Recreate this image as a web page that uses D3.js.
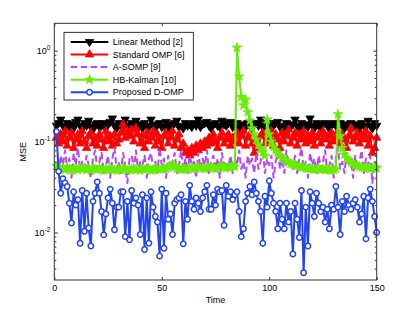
<!DOCTYPE html>
<html>
<head>
<meta charset="utf-8">
<script src="https://cdn.jsdelivr.net/npm/d3@7"></script>
<style>
body { margin: 0; background: #fff; }
text { font-family: "Liberation Sans", Arial, sans-serif; fill: #000; }
</style>
</head>
<body>
<svg width="415" height="316"></svg>
<script>
// time steps 1..150
var times = d3.range(1, 151);

var linearMethod = [
  0.150,0.160,0.175,0.150,0.140,0.160,0.145,0.155,0.140,0.165,
  0.175,0.150,0.140,0.160,0.150,0.170,0.145,0.135,0.155,0.160,
  0.145,0.150,0.160,0.140,0.155,0.165,0.180,0.150,0.140,0.160,
  0.150,0.145,0.175,0.150,0.140,0.160,0.150,0.170,0.145,0.155,
  0.140,0.160,0.150,0.145,0.175,0.150,0.140,0.155,0.160,0.145,
  0.150,0.165,0.140,0.155,0.150,0.160,0.170,0.145,0.150,0.140,
  0.160,0.150,0.155,0.145,0.160,0.150,0.175,0.145,0.155,0.160,
  0.165,0.150,0.140,0.155,0.160,0.150,0.145,0.170,0.155,0.150,
  0.160,0.165,0.145,0.150,0.160,0.140,0.155,0.150,0.145,0.160,
  0.150,0.140,0.155,0.160,0.150,0.175,0.145,0.150,0.160,0.140,
  0.155,0.150,0.160,0.165,0.145,0.150,0.140,0.160,0.150,0.145,
  0.155,0.175,0.150,0.140,0.160,0.150,0.155,0.145,0.180,0.150,
  0.140,0.160,0.150,0.145,0.155,0.160,0.150,0.140,0.155,0.160,
  0.150,0.145,0.160,0.150,0.140,0.155,0.150,0.160,0.145,0.150,
  0.155,0.140,0.160,0.150,0.145,0.170,0.150,0.140,0.160,0.150
];

var standardOMP = [
  0.110,0.095,0.120,0.100,0.130,0.090,0.110,0.125,0.085,0.105,
  0.120,0.095,0.130,0.100,0.085,0.115,0.125,0.095,0.110,0.090,
  0.120,0.105,0.085,0.130,0.100,0.115,0.090,0.120,0.095,0.105,
  0.125,0.155,0.110,0.130,0.115,0.135,0.100,0.140,0.120,0.095,
  0.115,0.085,0.125,0.100,0.110,0.130,0.090,0.120,0.100,0.085,
  0.115,0.125,0.095,0.110,0.130,0.090,0.105,0.120,0.085,0.095,
  0.075,0.080,0.070,0.085,0.075,0.090,0.080,0.095,0.085,0.100,
  0.090,0.110,0.095,0.120,0.100,0.085,0.110,0.125,0.095,0.105,
  0.120,0.090,0.110,0.100,0.125,0.095,0.115,0.130,0.090,0.110,
  0.120,0.095,0.075,0.105,0.085,0.115,0.125,0.095,0.110,0.100,
  0.130,0.090,0.120,0.105,0.085,0.125,0.100,0.115,0.135,0.095,
  0.110,0.125,0.090,0.120,0.105,0.130,0.095,0.115,0.100,0.125,
  0.090,0.110,0.120,0.095,0.130,0.105,0.115,0.090,0.125,0.100,
  0.110,0.130,0.095,0.120,0.105,0.085,0.115,0.140,0.100,0.110,
  0.125,0.095,0.120,0.105,0.130,0.090,0.115,0.075,0.085,0.110
];

var aSOMP = [
  0.060,0.045,0.070,0.055,0.080,0.050,0.065,0.040,0.075,0.055,
  0.085,0.050,0.060,0.045,0.070,0.055,0.040,0.065,0.080,0.050,
  0.060,0.075,0.045,0.055,0.070,0.040,0.065,0.085,0.050,0.060,
  0.045,0.075,0.055,0.035,0.065,0.070,0.050,0.080,0.045,0.060,
  0.055,0.070,0.040,0.065,0.075,0.050,0.060,0.045,0.085,0.055,
  0.065,0.040,0.070,0.050,0.060,0.075,0.045,0.055,0.080,0.050,
  0.065,0.045,0.070,0.055,0.060,0.040,0.075,0.050,0.065,0.055,
  0.080,0.045,0.060,0.070,0.050,0.065,0.040,0.075,0.055,0.060,
  0.050,0.070,0.045,0.065,0.055,0.080,0.050,0.060,0.040,0.070,
  0.055,0.065,0.045,0.075,0.050,0.060,0.085,0.045,0.065,0.055,
  0.070,0.040,0.060,0.075,0.050,0.065,0.045,0.080,0.055,0.060,
  0.050,0.070,0.045,0.065,0.085,0.050,0.060,0.040,0.075,0.055,
  0.065,0.045,0.070,0.050,0.060,0.080,0.045,0.055,0.070,0.040,
  0.065,0.085,0.050,0.060,0.045,0.075,0.055,0.065,0.040,0.070,
  0.050,0.060,0.080,0.045,0.065,0.055,0.070,0.035,0.060,0.050
];

var hbKalman = [
  0.054,0.052,0.050,0.051,0.049,0.052,0.050,0.048,0.051,0.050,
  0.049,0.051,0.050,0.052,0.049,0.050,0.048,0.051,0.050,0.049,
  0.051,0.050,0.048,0.050,0.049,0.051,0.050,0.049,0.048,0.050,
  0.049,0.051,0.050,0.048,0.049,0.050,0.051,0.049,0.050,0.048,
  0.050,0.049,0.051,0.050,0.048,0.049,0.051,0.050,0.049,0.050,
  0.051,0.050,0.052,0.054,0.056,0.053,0.051,0.050,0.049,0.051,
  0.050,0.049,0.051,0.052,0.050,0.051,0.053,0.052,0.051,0.050,
  0.052,0.051,0.053,0.052,0.050,0.051,0.053,0.054,0.052,0.051,
  0.053,0.052,0.054,0.053,1.080,0.520,0.310,0.250,0.290,0.210,
  0.170,0.140,0.120,0.105,0.092,0.083,0.076,0.070,0.175,0.120,
  0.100,0.088,0.080,0.075,0.070,0.066,0.063,0.061,0.059,0.057,
  0.056,0.055,0.054,0.053,0.052,0.052,0.051,0.050,0.051,0.050,
  0.049,0.050,0.051,0.049,0.050,0.049,0.050,0.049,0.048,0.049,
  0.050,0.200,0.115,0.085,0.072,0.066,0.062,0.059,0.057,0.055,
  0.054,0.053,0.052,0.051,0.052,0.051,0.050,0.051,0.052,0.051
];

var proposedDOMP = [
  0.129,0.047,0.027,0.039,0.035,0.032,0.021,0.0127,0.028,0.020,
  0.023,0.0076,0.029,0.0103,0.027,0.0112,0.0071,0.022,0.027,0.036,
  0.027,0.017,0.0094,0.016,0.024,0.030,0.021,0.0107,0.019,0.019,
  0.028,0.028,0.009,0.022,0.0083,0.029,0.021,0.024,0.020,0.0095,
  0.026,0.0065,0.024,0.0076,0.028,0.019,0.015,0.013,0.0055,0.030,
  0.0067,0.027,0.014,0.016,0.0095,0.021,0.023,0.024,0.026,0.0075,
  0.022,0.014,0.033,0.022,0.018,0.024,0.021,0.017,0.024,0.028,
  0.033,0.018,0.018,0.026,0.020,0.030,0.028,0.029,0.012,0.033,
  0.025,0.028,0.023,0.026,0.028,0.017,0.009,0.011,0.022,0.027,
  0.032,0.026,0.036,0.027,0.022,0.017,0.0076,0.025,0.019,0.037,
  0.027,0.021,0.017,0.011,0.021,0.014,0.011,0.021,0.013,0.017,
  0.0058,0.021,0.014,0.0088,0.029,0.0036,0.019,0.0071,0.028,0.021,
  0.015,0.027,0.021,0.017,0.019,0.013,0.018,0.011,0.020,0.018,
  0.032,0.019,0.0095,0.022,0.017,0.025,0.020,0.018,0.021,0.023,
  0.019,0.013,0.016,0.025,0.0085,0.024,0.030,0.022,0.015,0.010
];

var seriesNames = ['Linear Method [2]', 'Standard OMP [6]', 'A-SOMP [9]', 'HB-Kalman [10]', 'Proposed D-OMP'];
var seriesValues = [linearMethod, standardOMP, aSOMP, hbKalman, proposedDOMP];
var seriesColors = ['#000000', '#ff0000', '#bb44ff', '#66ee00', '#2244f4'];
var seriesMarkers = ['down', 'up', 'none', 'star', 'circle'];

var xTicks = [0, 50, 100, 150];
var yTicks = [1, 0.1, 0.01];
var yTickExps = ['0', '-1', '-2'];

var svg = d3.select('svg');

var plot = {l: 54.3, r: 376.7, t: 23.3, b: 280};

var x = d3.scaleLinear().domain([0, 150]).range([plot.l, plot.r]);
var y = d3.scaleLog().domain([0.003, 2]).range([plot.b, plot.t]);

// minor ticks of the log axis
var minorTicks = [];
[-3, -2, -1, 0].forEach(function(e) {
    for (var k = 2; k <= 9; k++) {
        var v = k * Math.pow(10, e);
        if (v > 0.003 && v < 2) minorTicks.push(v);
    }
});

var line = d3.line()
    .x(function(d) { return x(d.t); })
    .y(function(d) { return y(d.v); });

function markerPath(type) {
    if (type === 'down' || type === 'up') return d3.symbol(d3.symbolTriangle, 30)();
    if (type === 'star') return d3.symbol(d3.symbolStar, 28)();
    return null;
}

function drawMarker(g, type, color) {
    if (type === 'none') return;
    if (type === 'circle') {
        g.append('circle').attr('r', 2.7)
            .attr('fill', '#fff').attr('stroke', color).attr('stroke-width', 1.5);
        return;
    }
    g.append('path').attr('d', markerPath(type))
        .attr('transform', type === 'down' ? 'rotate(180)' : null)
        .attr('fill', color).attr('stroke', color).attr('stroke-width', 0.8);
}

// series
var seriesG = svg.append('g');
seriesValues.forEach(function(vals, i) {
    var pts = vals.map(function(v, j) { return {t: times[j], v: v}; });
    var g = seriesG.append('g');
    g.append('path')
        .datum(pts)
        .attr('d', line)
        .attr('fill', 'none')
        .attr('stroke', seriesColors[i])
        .attr('stroke-width', 2)
        .attr('stroke-linejoin', 'round')
        .attr('stroke-dasharray', seriesMarkers[i] === 'none' ? '6.5,3.5' : null);
    if (seriesMarkers[i] !== 'none') {
        g.selectAll('g.mk')
            .data(pts)
            .enter()
            .append('g')
            .attr('class', 'mk')
            .attr('transform', function(d) { return 'translate(' + [x(d.t), y(d.v)] + ')'; })
            .each(function() { drawMarker(d3.select(this), seriesMarkers[i], seriesColors[i]); });
    }
});

// axes
var axisColor = '#333';
function styleAxis(g) {
    g.select('.domain').remove();
    g.selectAll('line').attr('stroke', axisColor);
    g.selectAll('text').style('font-size', '9px').attr('fill', '#000');
}

svg.append('g')
    .attr('transform', 'translate(0,' + plot.b + ')')
    .call(d3.axisBottom(x).tickValues(xTicks).tickSize(-3).tickPadding(5))
    .call(styleAxis);
svg.append('g')
    .attr('transform', 'translate(0,' + plot.t + ')')
    .call(d3.axisTop(x).tickValues(xTicks).tickSize(-3).tickFormat(''))
    .call(styleAxis);

var yAxisL = svg.append('g')
    .attr('transform', 'translate(' + plot.l + ',0)')
    .call(d3.axisLeft(y).tickValues(yTicks).tickSize(-3.5).tickPadding(4))
    .call(styleAxis);
yAxisL.selectAll('.tick text').each(function(d, i) {
    var t = d3.select(this).text('');
    t.append('tspan').text('10');
    t.append('tspan').attr('dy', '-0.55em').style('font-size', '6.5px').text(yTickExps[i]);
});
svg.append('g')
    .attr('transform', 'translate(' + plot.l + ',0)')
    .call(d3.axisLeft(y).tickValues(minorTicks).tickSize(-2).tickFormat(''))
    .call(styleAxis);
svg.append('g')
    .attr('transform', 'translate(' + plot.r + ',0)')
    .call(d3.axisRight(y).tickValues(yTicks).tickSize(-3.5).tickFormat(''))
    .call(styleAxis);
svg.append('g')
    .attr('transform', 'translate(' + plot.r + ',0)')
    .call(d3.axisRight(y).tickValues(minorTicks).tickSize(-2).tickFormat(''))
    .call(styleAxis);

// box
svg.append('rect')
    .attr('x', plot.l).attr('y', plot.t)
    .attr('width', plot.r - plot.l).attr('height', plot.b - plot.t)
    .attr('fill', 'none').attr('stroke', axisColor).attr('stroke-width', 1);

// axis labels
svg.append('text')
    .attr('x', (plot.l + plot.r) / 2).attr('y', 303)
    .attr('text-anchor', 'middle')
    .style('font-size', '9px')
    .text('Time');
svg.append('text')
    .attr('transform', 'translate(26,' + (plot.t + plot.b) / 2 + ') rotate(-90)')
    .attr('text-anchor', 'middle')
    .style('font-size', '9px')
    .text('MSE');

// legend
var legend = svg.append('g').attr('transform', 'translate(64,32.3)');
legend.append('rect')
    .attr('width', 129.3).attr('height', 67.7)
    .attr('fill', '#fff').attr('stroke', '#000').attr('stroke-width', 0.8);
seriesNames.forEach(function(name, i) {
    var row = legend.append('g').attr('transform', 'translate(0,' + (9.6 + i * 12.6) + ')');
    row.append('line')
        .attr('x1', 6.7).attr('x2', 44.3)
        .attr('stroke', seriesColors[i]).attr('stroke-width', 2)
        .attr('stroke-dasharray', seriesMarkers[i] === 'none' ? '6.5,3.5' : null);
    var mk = row.append('g').attr('transform', 'translate(25.5,0)');
    drawMarker(mk, seriesMarkers[i], seriesColors[i]);
    row.append('text')
        .attr('x', 48.7).attr('dy', '0.35em')
        .style('font-size', '9px')
        .text(name);
});
</script>
</body>
</html>
